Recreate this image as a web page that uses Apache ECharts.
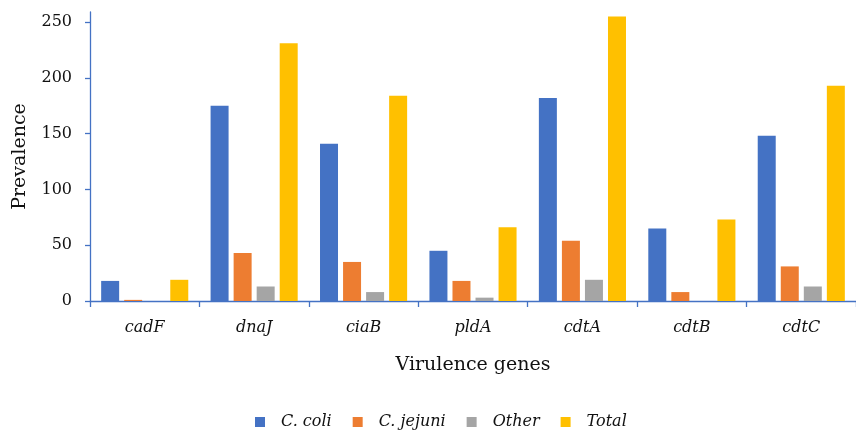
<!DOCTYPE html>
<html><head><meta charset="utf-8">
<script src="https://cdn.jsdelivr.net/npm/echarts@6/dist/echarts.min.js"></script>
<style>html,body{margin:0;padding:0;background:#fff}#c{width:856px;height:432px}</style>
</head><body><div id="c"></div>
<script>
const categories = ['cadF','dnaJ','ciaB','pldA','cdtA','cdtB','cdtC'];
const cColi   = [18,175,141,45,182,65,148];
const cJejuni = [1,43,35,18,54,8,31];
const other   = [0,13,8,3,19,0,13];
const total   = [19,231,184,66,255,73,193];
const yTicks  = [0,50,100,150,200,250];
const seriesNames = ['C. coli','C. jejuni','Other','Total'];
const colors = ['#4472C4','#ED7D31','#A5A5A5','#FFC000'];
const font = 'DejaVu Serif';
const axisColor = '#4472C4';
const txt = '#111';
const data = [cColi,cJejuni,other,total];

const chart = echarts.init(document.getElementById('c'), null, {renderer:'canvas'});
chart.setOption({
  animation:false,
  color: colors,
  grid:{left:90,right:-9,top:12,bottom:131,containLabel:false},
  legend:{
    bottom:-3, left:250, itemWidth:10, itemHeight:10, itemGap:21,
    icon:'rect',
    textStyle:{fontFamily:font,fontStyle:'italic',fontSize:16,color:txt,padding:[0,0,0,11]},
    data:seriesNames
  },
  xAxis:{
    type:'category', data:categories,
    name:'Virulence genes', nameLocation:'middle', nameGap:55,
    nameTextStyle:{fontFamily:font,fontSize:19,color:txt},
    axisLine:{lineStyle:{color:axisColor,width:1.3}},
    axisTick:{show:true,alignWithLabel:false,length:6,lineStyle:{color:axisColor,width:1.3}},
    axisLabel:{fontFamily:font,fontStyle:'italic',fontSize:16,color:txt,margin:19}
  },
  yAxis:{
    type:'value', min:0, max:259, interval:50,
    name:'Prevalence', nameLocation:'middle', nameGap:60, nameRotate:90,
    nameTextStyle:{fontFamily:font,fontSize:19,color:txt},
    splitLine:{show:false},
    axisLine:{show:true,lineStyle:{color:axisColor,width:1.3}},
    axisTick:{show:true,length:5,lineStyle:{color:axisColor,width:1.3},customValues:yTicks},
    axisLabel:{fontFamily:font,fontSize:16,color:txt,margin:18,customValues:yTicks}
  },
  series: seriesNames.map((n,i)=>({
    name:n, type:'bar', data:data[i], barWidth:18, barGap:'28%',
    itemStyle:{color:colors[i]}
  }))
});
</script></body></html>
